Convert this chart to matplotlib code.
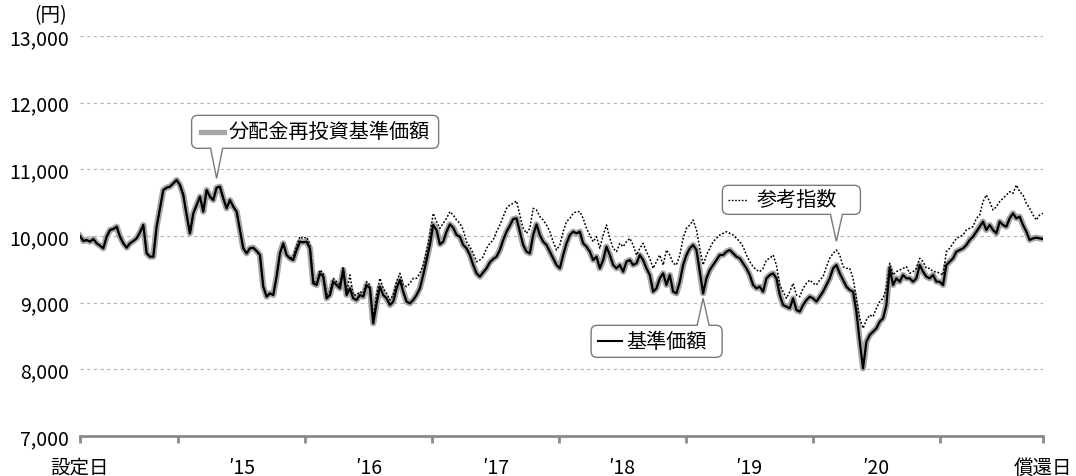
import matplotlib
matplotlib.use("Agg")
import matplotlib.pyplot as plt
import matplotlib.dates as mdates
from matplotlib.path import Path
from matplotlib.patches import PathPatch
from matplotlib.lines import Line2D
from matplotlib.transforms import IdentityTransform
import pandas as pd

plt.rcParams["font.family"] = ["Noto Sans CJK JP", "DejaVu Sans"]

# ---- data -------------------------------------------------------------
setup_date = "2014-03-25"
redemption_date = "2021-10-25"

nav_2014_2016 = [
    10000, 9925, 9940, 9915, 9955, 9890, 9855, 9815, 9990, 10090,
    10105, 10140, 9990, 9890, 9825, 9890, 9925, 9965, 10055, 10165,
    9740, 9690, 9690, 10140, 10415, 10690, 10725, 10740, 10790, 10840,
    10765, 10615, 10315, 10040, 10340, 10465, 10590, 10365, 10690, 10590,
    10540, 10725, 10740, 10565, 10415, 10540, 10440, 10365, 10090, 9815,
    9740, 9815, 9825, 9775, 9715, 9240, 9090, 9140, 9115, 9390,
    9740, 9890, 9715, 9665, 9640, 9790, 9915, 9905, 9915, 9815,
    9290,
]
nav_2016_2018 = [
    9265, 9440, 9390, 9065, 9115, 9315, 9265, 9215, 9490, 9115,
    9215, 9065, 9040, 9115, 9090, 9265, 9215, 8690, 8990, 9240,
    9115, 9065, 8965, 9015, 9215, 9340, 9165, 9015, 8990, 9040,
    9115, 9215, 9415, 9640, 9865, 10165, 10090, 9875, 9915, 10065,
    10175, 10125, 10015, 9990, 9865, 9815, 9715, 9565, 9440, 9390,
    9455, 9515, 9605, 9655, 9690, 9790, 9940, 10065, 10155, 10255,
    10265, 10065, 9865, 9765, 9740, 10015, 10175, 10015, 9915, 9865,
    9765, 9665,
]
nav_2018_2020 = [
    9565, 9515, 9715, 9890, 10015, 10065, 10040, 10065, 9890, 9840,
    9765, 9640, 9690, 9515, 9640, 9840, 9715, 9565, 9515, 9565,
    9465, 9615, 9640, 9565, 9590, 9715, 9640, 9515, 9415, 9165,
    9215, 9365, 9440, 9265, 9415, 9165, 9140, 9315, 9565, 9715,
    9815, 9865, 9790, 9465, 9140, 9365, 9490, 9565, 9640, 9715,
    9715, 9765, 9790, 9740, 9690, 9665, 9590, 9515, 9415, 9265,
    9215, 9240, 9165, 9365, 9415, 9440, 9365, 9115, 8965, 8940,
    8915, 9065,
]
nav_2020_2021 = [
    8890, 8865, 8965, 9040, 9090, 9065, 9015, 9090, 9165, 9265,
    9365, 9515, 9565, 9440, 9340, 9240, 9190, 9165, 8865, 8415,
    8015, 8415, 8515, 8565, 8615, 8715, 8765, 8965, 9515, 9265,
    9365, 9315, 9415, 9365, 9365, 9315, 9365, 9565, 9465, 9390,
    9365, 9415, 9315, 9315, 9265, 9565, 9615, 9665, 9765, 9790,
    9815, 9865, 9940, 9990, 10065, 10140, 10215, 10090, 10165, 10090,
    10040, 10215, 10165, 10140, 10265, 10340, 10265, 10290, 10165, 10065,
    9940, 9965, 9975, 9965, 9955,
]

index_2014_2016 = [
    10000, 9925, 9940, 9915, 9955, 9890, 9855, 9815, 9990, 10090,
    10105, 10140, 9990, 9890, 9825, 9890, 9925, 9965, 10055, 10165,
    9740, 9690, 9690, 10140, 10415, 10690, 10725, 10740, 10790, 10840,
    10765, 10615, 10315, 10040, 10340, 10465, 10590, 10365, 10690, 10590,
    10540, 10725, 10740, 10565, 10415, 10540, 10440, 10365, 10090, 9815,
    9740, 9815, 9825, 9775, 9715, 9240, 9090, 9140, 9115, 9390,
    9740, 9890, 9715, 9665, 9690, 9850, 9990, 9960, 9985, 9870,
    9330,
]
index_2016_2018 = [
    9290, 9490, 9440, 9115, 9165, 9365, 9315, 9265, 9540, 9165,
    9415, 9115, 9115, 9165, 9140, 9315, 9265, 8765, 9115, 9365,
    9215, 9140, 9040, 9115, 9315, 9440, 9265, 9240, 9290, 9365,
    9365, 9440, 9565, 9765, 10015, 10340, 10215, 10115, 10190, 10265,
    10365, 10315, 10240, 10190, 10090, 9915, 9840, 9740, 9615, 9640,
    9690, 9815, 9890, 9940, 10065, 10165, 10290, 10415, 10465, 10490,
    10525, 10315, 10115, 10040, 10115, 10415, 10390, 10290, 10240, 10165,
    10065, 9915,
]
index_2018_2020 = [
    9790, 9865, 10065, 10215, 10265, 10340, 10365, 10365, 10265, 10115,
    10015, 9915, 9990, 9815, 10015, 10165, 9965, 9815, 9765, 9890,
    9840, 9915, 9965, 9865, 9715, 9815, 9890, 9765, 9665, 9515,
    9615, 9715, 9565, 9790, 9715, 9590, 9565, 9715, 9965, 10115,
    10165, 10240, 10090, 9815, 9565, 9715, 9815, 9915, 9965, 10015,
    10040, 10065, 10040, 10015, 9965, 9915, 9840, 9715, 9615, 9540,
    9490, 9465, 9515, 9640, 9665, 9715, 9565, 9265, 9165, 9065,
    9165, 9290,
]
index_2020_2021 = [
    9115, 9090, 9215, 9290, 9340, 9290, 9265, 9340, 9390, 9540,
    9665, 9740, 9790, 9715, 9540, 9515, 9515, 9365, 9065, 8765,
    8615, 8740, 8815, 8790, 8915, 9015, 9065, 9215, 9590, 9415,
    9465, 9490, 9515, 9540, 9440, 9465, 9515, 9665, 9615, 9515,
    9515, 9465, 9465, 9440, 9415, 9765, 9815, 9890, 9965, 9990,
    10015, 10090, 10115, 10140, 10265, 10315, 10515, 10615, 10515, 10390,
    10440, 10515, 10565, 10615, 10665, 10640, 10765, 10665, 10615, 10490,
    10415, 10315, 10240, 10315, 10340,
]

nav = nav_2014_2016 + nav_2016_2018 + nav_2018_2020 + nav_2020_2021
# No distributions were paid, so the reinvested NAV coincides with the NAV.
reinvested_nav = list(nav)
ref_index = index_2014_2016 + index_2016_2018 + index_2018_2020 + index_2020_2021

year_labels = ["\u203215", "\u203216", "\u203217", "\u203218", "\u203219", "\u203220"]
years = [2015, 2016, 2017, 2018, 2019, 2020]
y_ticks = [7000, 8000, 9000, 10000, 11000, 12000, 13000]

# ---- figure -------------------------------------------------------------
W, H = 1076, 477
fig = plt.figure(figsize=(W / 100, H / 100), dpi=100)
ax = fig.add_axes([80 / W, 1 - 437 / H, 963 / W, 400 / H])

dates = pd.date_range(setup_date, redemption_date, periods=len(nav))
start, end = pd.Timestamp(setup_date), pd.Timestamp(redemption_date)

ax.plot(dates, reinvested_nav, color="#a6a6a6", lw=4.4, zorder=2)
ax.plot(dates, nav, color="black", lw=1.6, zorder=3)
ax.plot(dates, ref_index, color="black", lw=1.1, ls=(0, (1.2, 1.2)), zorder=4)

ax.set_xlim(start, end)
ax.set_ylim(7000, 13000)
ax.set_autoscale_on(False)

# y axis
ax.set_yticks(y_ticks)
ax.set_yticklabels([f"{v:,}" for v in y_ticks])
ax.tick_params(axis="y", length=0, pad=8, labelsize=14, colors="black")
ax.yaxis.grid(True, color="#b4b4b4", lw=0.8, ls=(0, (3, 3)))
ax.set_axisbelow(True)

for side in ("left", "right", "top"):
    ax.spines[side].set_visible(False)
ax.spines["bottom"].set_color("#8a8a8a")
ax.spines["bottom"].set_linewidth(2.0)
ax.spines["bottom"].set_zorder(5)

# x axis: marks at the start, every new year and the end; labels in between
mark_locs = [start] + [pd.Timestamp(f"{y}-01-01") for y in years + [2021]] + [end]
label_locs = [start] + [pd.Timestamp(f"{y}-07-02") for y in years] + [end]
ax.xaxis.remove_overlapping_locs = False
ax.set_xticks([mdates.date2num(d) for d in mark_locs])
ax.set_xticklabels([])
ax.set_xticks([mdates.date2num(d) for d in label_locs], minor=True)
ax.set_xticklabels(["設定日"] + year_labels + ["償還日"], minor=True)
ax.tick_params(axis="x", which="major", length=5, width=2.0, color="#8a8a8a", direction="out")
ax.tick_params(axis="x", which="minor", length=0, pad=15, labelsize=14, colors="black")

fig.text(51, H - 16, "(円)", transform=IdentityTransform(), ha="center", va="center", fontsize=14)


# ---- callouts -----------------------------------------------------------
def bubble(date, value, left, right, near, far, below, sample, label, sample_x, text_x):
    tx, ty = ax.transData.transform((mdates.date2num(date), value))
    s = -1 if below else 1
    e1, e2 = ty + s * near, ty + s * far
    B, T = min(e1, e2), max(e1, e2)
    L, R = tx + left, tx + right
    r = 6
    n0, n1 = tx - 6, tx + 6
    verts, codes = [], []

    def add(p, c):
        verts.append(p)
        codes.append(c)

    add((L + r, B), Path.MOVETO)
    if not below:
        add((n0, B), Path.LINETO)
        add((tx, ty), Path.LINETO)
        add((n1, B), Path.LINETO)
    add((R - r, B), Path.LINETO)
    add((R, B), Path.CURVE3)
    add((R, B + r), Path.CURVE3)
    add((R, T - r), Path.LINETO)
    add((R, T), Path.CURVE3)
    add((R - r, T), Path.CURVE3)
    if below:
        add((n1, T), Path.LINETO)
        add((tx, ty), Path.LINETO)
        add((n0, T), Path.LINETO)
    add((L + r, T), Path.LINETO)
    add((L, T), Path.CURVE3)
    add((L, T - r), Path.CURVE3)
    add((L, B + r), Path.LINETO)
    add((L, B), Path.CURVE3)
    add((L + r, B), Path.CURVE3)
    add((L + r, B), Path.CLOSEPOLY)

    patch = PathPatch(Path(verts, codes), transform=IdentityTransform(),
                      facecolor="white", edgecolor="#7a7a7a", lw=1.0, zorder=10)
    fig.add_artist(patch)

    cy = (B + T) / 2
    line = Line2D([tx + sample_x[0], tx + sample_x[1]], [cy, cy],
                  transform=IdentityTransform(), zorder=11, **sample)
    fig.add_artist(line)
    fig.text(tx + text_x, cy, label, transform=IdentityTransform(),
             ha="left", va="center", fontsize=14.5, zorder=12)


bubble(dates[41], 10865, -25, 222, 30, 63, False,
       dict(color="#a6a6a6", lw=3.8), "分配金再投資基準価額", (-16, 7), 12)
bubble(dates[227], 9920, -114, 24, 27, 56, False,
       dict(color="black", lw=1.0, ls=(0, (1.2, 1.2))), "参考指数", (-108, -88), -80)
bubble(dates[187], 9065, -112, 19, 27, 59, True,
       dict(color="black", lw=1.5), "基準価額", (-105, -81), -77)

fig.savefig("out.png", dpi=100)
